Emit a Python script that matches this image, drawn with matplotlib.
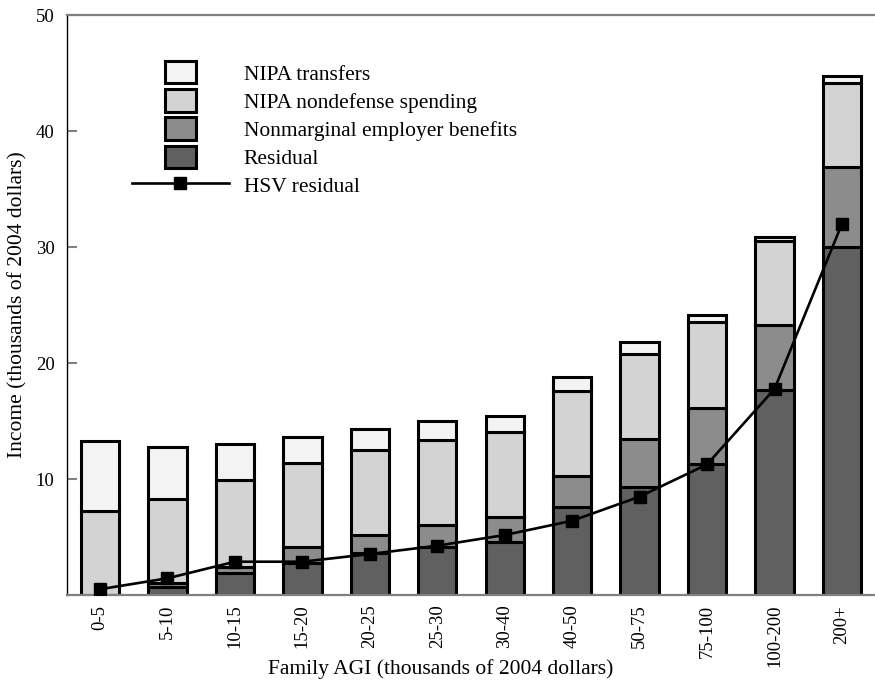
import numpy as np
import matplotlib
matplotlib.use("Agg")
import matplotlib.pyplot as plt
from matplotlib.patches import Rectangle
from matplotlib.legend_handler import HandlerPatch

plt.rcParams['font.family'] = ['Liberation Serif', 'DejaVu Serif']

categories = ["0-5", "5-10", "10-15", "15-20", "20-25", "25-30", "30-40",
              "40-50", "50-75", "75-100", "100-200", "200+"]

# components, thousands of 2004 dollars (stacked bottom -> top)
residual = [0.0, 0.66, 1.92, 2.8, 3.6, 4.17, 4.54, 7.6, 9.34, 11.26, 17.67, 29.97]
benefits = [0.0, 0.34, 0.52, 1.34, 1.57, 1.86, 2.21, 2.66, 4.11, 4.89, 5.58, 6.9]
nondefense = [7.24, 7.3, 7.46, 7.26, 7.33, 7.33, 7.3, 7.34, 7.33, 7.35, 7.3, 7.29]
transfers = [6.06, 4.5, 3.1, 2.2, 1.8, 1.64, 1.38, 1.2, 1.02, 0.6, 0.35, 0.61]
hsv_residual = [0.5, 1.44, 2.87, 2.87, 3.53, 4.25, 5.17, 6.4, 8.48, 11.26, 17.76, 32.0]

colors = {
    "NIPA transfers": "#f3f3f3",
    "NIPA nondefense spending": "#d3d3d3",
    "Nonmarginal employer benefits": "#8c8c8c",
    "Residual": "#606060",
}

fig = plt.figure(figsize=(8.75, 6.85), dpi=100)
ax = fig.add_axes([67 / 875, 90 / 685, 808 / 875, 580 / 685])

x = np.arange(len(categories))
w = 0.57
bottom = np.zeros(len(categories))
handles = {}
for name, vals in [("Residual", residual),
                   ("Nonmarginal employer benefits", benefits),
                   ("NIPA nondefense spending", nondefense),
                   ("NIPA transfers", transfers)]:
    b = ax.bar(x, vals, w, bottom=bottom, color=colors[name],
               edgecolor="black", linewidth=2.2, zorder=2)
    handles[name] = b.patches[0]
    bottom = bottom + np.array(vals)

(ln,) = ax.plot(x, hsv_residual, color="black", lw=1.9, marker="s",
                markersize=8, zorder=3)

ax.set_xlim(-0.49, 11.49)
ax.set_ylim(0, 50)
ax.set_yticks([10, 20, 30, 40, 50])
ax.set_xticks(x)
ax.set_xticklabels(categories, rotation=90, fontsize=13.5)
ax.tick_params(axis="x", length=0, pad=7)
ax.tick_params(axis="y", direction="in", length=7, width=1.5, color="#808080",
               labelsize=13.5, pad=9)

ax.spines["right"].set_visible(False)
ax.spines["left"].set_color("black")
ax.spines["left"].set_linewidth(1.0)
for s in ["top", "bottom"]:
    ax.spines[s].set_color("#808080")
    ax.spines[s].set_linewidth(1.6)

ax.set_ylabel("Income (thousands of 2004 dollars)", fontsize=15.5, labelpad=6)
ax.set_xlabel("Family AGI (thousands of 2004 dollars)", fontsize=15.5)
ax.xaxis.set_label_coords(0.463, -0.111)


def narrow_box(legend, orig_handle, xdescent, ydescent, width, height, fontsize):
    bw = 0.32 * width
    return Rectangle((-xdescent + (width - bw) / 2, -ydescent), bw, height)


order = ["NIPA transfers", "NIPA nondefense spending",
         "Nonmarginal employer benefits", "Residual"]
leg = ax.legend([handles[n] for n in order] + [ln], order + ["HSV residual"],
                loc="upper left", bbox_to_anchor=(0.08, 0.92), frameon=False,
                fontsize=15.5, handlelength=4.5, handleheight=1.2,
                handletextpad=0.7, labelspacing=0.22, borderpad=0,
                borderaxespad=0,
                handler_map={Rectangle: HandlerPatch(patch_func=narrow_box)})

fig.savefig("out.png", dpi=100)
